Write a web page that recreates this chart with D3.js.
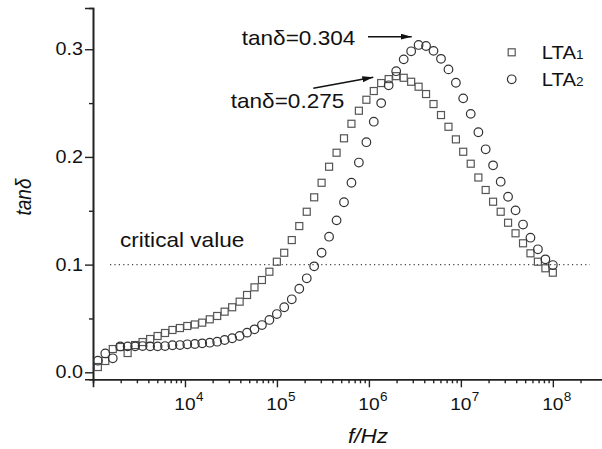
<!DOCTYPE html>
<html>
<head>
<meta charset="utf-8">
<script src="https://cdn.jsdelivr.net/npm/d3@7/dist/d3.min.js"></script>
<style>
  html, body { margin: 0; padding: 0; background: #fff; }
  svg { display: block; }
  text { font-family: "Liberation Sans", Arial, Helvetica, sans-serif; fill: #111; }
</style>
</head>
<body>
<svg id="chart" width="602" height="449"></svg>
<script>
// ---- data ----
const freqHz = [1130, 1360, 1640, 1980, 2380, 2870, 3460, 4180, 5040, 6070, 7310, 8810,
  10600, 12800, 15400, 18600, 22400, 27000, 32600, 39300, 47300, 57000, 68700, 82800,
  99800, 120000, 145000, 175000, 211000, 254000, 306000, 369000, 445000, 536000, 646000, 778000,
  939000, 1130000, 1360000, 1640000, 1980000, 2390000, 2880000, 3470000, 4180000, 5040000, 6080000, 7330000,
  8830000, 10600000, 12800000, 15500000, 18600000, 22400000, 27100000, 32600000, 39300000, 47400000, 57100000, 68800000,
  83000000, 100000000];

const lta1 = [0.0049, 0.0105, 0.0216, 0.0235, 0.0179, 0.0253, 0.0281, 0.0309, 0.0337, 0.0365, 0.0393, 0.0411,
  0.0430, 0.0444, 0.0461, 0.0492, 0.0523, 0.0563, 0.0604, 0.0656, 0.0718, 0.0789, 0.0857, 0.0934,
  0.1027, 0.1110, 0.1228, 0.1358, 0.1491, 0.1625, 0.1760, 0.1909, 0.2039, 0.2173, 0.2308, 0.2429,
  0.2531, 0.2612, 0.2686, 0.2723, 0.2750, 0.2735, 0.2698, 0.2652, 0.2584, 0.2491, 0.2389, 0.2280,
  0.2163, 0.2048, 0.1937, 0.1809, 0.1693, 0.1584, 0.1491, 0.1389, 0.1291, 0.1198, 0.1105, 0.1027,
  0.0966, 0.0925];

const lta2 = [0.0108, 0.0175, 0.0130, 0.0240, 0.0241, 0.0241, 0.0244, 0.0241, 0.0241, 0.0244, 0.0251, 0.0253,
  0.0260, 0.0263, 0.0269, 0.0275, 0.0284, 0.0300, 0.0316, 0.0337, 0.0368, 0.0399, 0.0439, 0.0486,
  0.0541, 0.0604, 0.0678, 0.0776, 0.0873, 0.0984, 0.1110, 0.1259, 0.1411, 0.1579, 0.1760, 0.1948,
  0.2137, 0.2327, 0.2500, 0.2665, 0.2796, 0.2906, 0.2981, 0.3040, 0.3030, 0.2985, 0.2911, 0.2813,
  0.2689, 0.2544, 0.2400, 0.2229, 0.2071, 0.1922, 0.1770, 0.1630, 0.1504, 0.1372, 0.1250, 0.1142,
  0.1049, 0.0996];

const seriesNames = ["LTA1", "LTA2"];
const yMajorTicks = [0.0, 0.1, 0.2, 0.3];
const yMinorTicks = [0.05, 0.15, 0.25];
const yTickLabels = ["0.0", "0.1", "0.2", "0.3"];
const xMajorTicks = [1e4, 1e5, 1e6, 1e7, 1e8];
const xMajorExponents = ["4", "5", "6", "7", "8"];
const criticalValue = 0.1;
const peak1 = { label: "tanδ=0.275", value: 0.275, freq: 1980000 };
const peak2 = { label: "tanδ=0.304", value: 0.304, freq: 3470000 };

// ---- chart ----
const svg = d3.select("#chart");
const x = d3.scaleLog().domain([1e3, Math.pow(10, 8.54)]).range([93, 602.5]);
const y = d3.scaleLinear().domain([-0.0065, 0.3383]).range([379.3, 8]);

const axisColor = "#222";
const stretch = 1.13; // reference glyphs are horizontally wider than Arial

function placeText(sel, px, py, extra) {
  return sel.attr("x", 0).attr("y", 0)
    .attr("transform", `translate(${px},${py}) scale(${stretch},1)` + (extra || ""));
}

// minor x ticks
const xMinor = [];
for (let e = 3; e <= 8; e++) for (let m = 2; m <= 9; m++) {
  const v = m * Math.pow(10, e);
  if (v <= 2e8) xMinor.push(v);
}

const gx = svg.append("g").attr("transform", `translate(0,${y.range()[0]})`);
gx.call(d3.axisBottom(x).tickValues(xMinor).tickSize(4).tickFormat(""));
gx.call(g => g.append("g").call(d3.axisBottom(x).tickValues(xMajorTicks).tickSize(8).tickFormat("")));
gx.selectAll("path.domain").attr("stroke", axisColor).attr("stroke-width", 1.6);
gx.selectAll(".tick line").attr("stroke", axisColor).attr("stroke-width", 1.4);

const gy = svg.append("g").attr("transform", `translate(${x.range()[0]},0)`);
gy.call(d3.axisLeft(y).tickValues(yMinorTicks).tickSize(4).tickFormat(""));
gy.call(g => g.append("g").call(d3.axisLeft(y).tickValues(yMajorTicks).tickSize(8).tickFormat("")));
gy.selectAll("path.domain").attr("stroke", axisColor).attr("stroke-width", 1.6);
gy.selectAll(".tick line").attr("stroke", axisColor).attr("stroke-width", 1.4);

// y tick labels
svg.append("g").selectAll("text").data(yMajorTicks).join("text")
  .each(function (d) { placeText(d3.select(this), 83, y(d)); })
  .attr("dy", "0.35em")
  .attr("text-anchor", "end").attr("font-size", 17.5)
  .text((d, i) => yTickLabels[i]);

// x tick labels: 10 with superscript exponent
const xl = svg.append("g").selectAll("g").data(xMajorTicks).join("g");
xl.append("text").each(function (d) { placeText(d3.select(this), x(d), 410); })
  .attr("text-anchor", "middle").attr("font-size", 17).text("10");
xl.append("text").each(function (d) { placeText(d3.select(this), x(d) + 11, 401); })
  .attr("font-size", 12).text((d, i) => xMajorExponents[i]);

// axis titles
svg.append("text").attr("transform", `translate(31,197) scale(${stretch},1) rotate(-90)`)
  .attr("text-anchor", "middle").attr("font-size", 19).attr("font-style", "italic").text("tanδ");
placeText(svg.append("text"), 368, 443)
  .attr("text-anchor", "middle").attr("font-size", 20).attr("font-style", "italic").text("f/Hz");

// critical value line
svg.append("line").attr("x1", 110).attr("x2", 590).attr("y1", y(criticalValue)).attr("y2", y(criticalValue))
  .attr("stroke", "#444").attr("stroke-width", 1.2).attr("stroke-dasharray", "1.2,3.2");
placeText(svg.append("text"), 120, 246.5).attr("font-size", 20).text("critical value");

// data
const pts1 = freqHz.map((f, i) => ({ f, v: lta1[i] }));
const pts2 = freqHz.map((f, i) => ({ f, v: lta2[i] }));
const sq = 7;
svg.append("g").selectAll("rect").data(pts1).join("rect")
  .attr("x", d => x(d.f) - sq / 2).attr("y", d => y(d.v) - sq / 2)
  .attr("width", sq).attr("height", sq)
  .attr("fill", "none").attr("stroke", "#555").attr("stroke-width", 1.2);
svg.append("g").selectAll("circle").data(pts2).join("circle")
  .attr("cx", d => x(d.f)).attr("cy", d => y(d.v)).attr("r", 4.3)
  .attr("fill", "none").attr("stroke", "#333").attr("stroke-width", 1.2);

// legend
svg.append("rect").attr("x", 511.7 - sq / 2).attr("y", 52.3 - sq / 2).attr("width", sq).attr("height", sq)
  .attr("fill", "none").attr("stroke", "#555").attr("stroke-width", 1.2);
svg.append("circle").attr("cx", 511.7).attr("cy", 79.3).attr("r", 4.3)
  .attr("fill", "none").attr("stroke", "#333").attr("stroke-width", 1.2);
[59.3, 86].forEach((by, i) => {
  const t = placeText(svg.append("text"), 541.7, by).attr("font-size", 18);
  t.append("tspan").text(seriesNames[i].slice(0, 3));
  t.append("tspan").attr("font-size", 12).text(seriesNames[i].slice(3));
});

// annotations with arrows
const defs = svg.append("defs");
defs.append("marker").attr("id", "arrow").attr("viewBox", "0 0 11 6").attr("refX", 11).attr("refY", 3)
  .attr("markerWidth", 11).attr("markerHeight", 6).attr("markerUnits", "userSpaceOnUse").attr("orient", "auto")
  .append("path").attr("d", "M0,0 L11,3 L0,6 Z").attr("fill", "#111");

placeText(svg.append("text"), 241.7, 45).attr("font-size", 20).text(peak2.label);
svg.append("line").attr("x1", 368).attr("y1", 36.7).attr("x2", 411.7).attr("y2", 36.7)
  .attr("stroke", "#111").attr("stroke-width", 1.4).attr("marker-end", "url(#arrow)");
placeText(svg.append("text"), 230.7, 108.3).attr("font-size", 20).text(peak1.label);
svg.append("line").attr("x1", 313.3).attr("y1", 88.3).attr("x2", 373.3).attr("y2", 77.3)
  .attr("stroke", "#111").attr("stroke-width", 1.4).attr("marker-end", "url(#arrow)");
</script>
</body>
</html>
